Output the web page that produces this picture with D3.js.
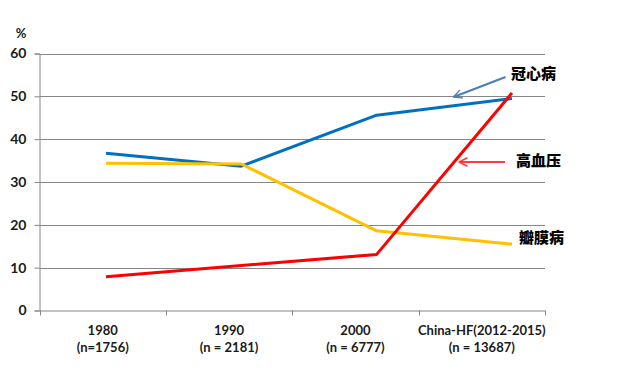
<!DOCTYPE html>
<html><head><meta charset="utf-8">
<script src="https://cdn.jsdelivr.net/npm/d3@7"></script>
<style>
html,body{margin:0;padding:0;background:#fff;}
svg{display:block;}
</style></head>
<body><svg id="c" width="640" height="373"></svg>
<script>
const categories = ["1980", "1990", "2000", "China-HF(2012-2015)"];
const subLabels = ["(n=1756)", "(n = 2181)", "(n = 6777)", "(n = 13687)"];
const chdValues = [36.7, 33.7, 45.6, 49.5];      // 冠心病
const htnValues = [7.9, 10.5, 13.1, 50.8];       // 高血压
const valveValues = [34.4, 34.2, 18.6, 15.5];    // 瓣膜病
const yTicks = [0, 10, 20, 30, 40, 50, 60];
const seriesNames = ["冠心病", "高血压", "瓣膜病"];

(function () {
const svg = d3.select("#c");
const mLeft = 39.5, mRight = 545, mTop = 53.5, mBottom = 310.5;

const y = d3.scaleLinear().domain([0, 60]).range([mBottom, mTop]);
const xBand = d3.scaleBand().domain(categories).range([mLeft, mRight]);
const xPt = d3.scalePoint().domain(categories).range([106, 512]);

const grid = "#868686";
const fontLat = "Lato, 'Liberation Sans', sans-serif";
const fontCJK = "'Noto Sans CJK SC', sans-serif";

// gridlines
svg.append("g").selectAll("line").data(yTicks.filter(d => d > 0)).join("line")
  .attr("x1", mLeft).attr("x2", mRight)
  .attr("y1", d => Math.round(y(d)) + 0.5).attr("y2", d => Math.round(y(d)) + 0.5)
  .attr("stroke", grid).attr("stroke-width", 1);

// y axis
const yAxis = svg.append("g").attr("transform", `translate(${mLeft},0)`)
  .call(d3.axisLeft(y).tickValues(yTicks).tickSize(5).tickPadding(8));
yAxis.select(".domain").attr("stroke", grid);
yAxis.selectAll(".tick line").attr("stroke", grid);
yAxis.selectAll(".tick text").attr("font-family", fontLat).attr("font-weight", "bold")
  .attr("font-size", 14).attr("fill", "#1a1a1a");

// x axis
const xAxis = svg.append("g").attr("transform", `translate(0,${mBottom})`)
  .call(d3.axisBottom(xBand).tickSize(0).tickFormat(""));
xAxis.select(".domain").attr("stroke", grid);
const bounds = [mLeft, ...categories.map(c => xBand(c) + xBand.bandwidth())];
svg.append("g").selectAll("line").data(bounds).join("line")
  .attr("x1", d => Math.round(d) + 0.5).attr("x2", d => Math.round(d) + 0.5)
  .attr("y1", mBottom).attr("y2", mBottom + 5).attr("stroke", grid);

const xl = svg.append("g");
categories.forEach((c, i) => {
  const cx = xBand(c) + xBand.bandwidth() / 2;
  xl.append("text").attr("x", cx).attr("y", 335).attr("text-anchor", "middle")
    .attr("font-family", fontLat).attr("font-weight", "bold").attr("font-size", 13)
    .attr("fill", "#1a1a1a").text(c);
  xl.append("text").attr("x", cx).attr("y", 352).attr("text-anchor", "middle")
    .attr("font-family", fontLat).attr("font-weight", "bold").attr("font-size", 13)
    .attr("fill", "#1a1a1a").text(subLabels[i]);
});

svg.append("text").attr("x", 21).attr("y", 38).attr("text-anchor", "middle")
  .attr("font-family", fontLat).attr("font-weight", "bold").attr("font-size", 13)
  .attr("fill", "#1a1a1a").text("%");

// lines
const line = d3.line().x((d, i) => xPt(categories[i])).y(d => y(d));
const series = [
  {vals: chdValues, color: "#0070C0"},
  {vals: valveValues, color: "#FFC000"},
  {vals: htnValues, color: "#FF0000"}
];
series.forEach(s => {
  svg.append("path").datum(s.vals).attr("d", line).attr("fill", "none")
    .attr("stroke", s.color).attr("stroke-width", 3).attr("stroke-linejoin", "round");
});

// annotations
const defs = svg.append("defs");
function marker(id, color) {
  defs.append("marker").attr("id", id).attr("viewBox", "0 0 10 10").attr("refX", 9).attr("refY", 5)
    .attr("markerWidth", 5).attr("markerHeight", 5).attr("markerUnits", "strokeWidth").attr("orient", "auto")
    .append("path").attr("d", "M1,1 L9,5 L1,9").attr("fill", "none").attr("stroke", color)
    .attr("stroke-width", 1.4).attr("stroke-linecap", "round").attr("stroke-linejoin", "round");
}
marker("ab", "#4a7ebb");
marker("ar", "#ff3b3b");

svg.append("line").attr("x1", 505.5).attr("y1", 77).attr("x2", 453.5).attr("y2", 97)
  .attr("stroke", "#4a7ebb").attr("stroke-width", 2).attr("marker-end", "url(#ab)");
svg.append("line").attr("x1", 505).attr("y1", 162).attr("x2", 459).attr("y2", 162)
  .attr("stroke", "#ff3b3b").attr("stroke-width", 2).attr("marker-end", "url(#ar)");

const labelPos = [[511, 79], [516, 166], [519, 243]];
seriesNames.forEach((n, i) => {
  svg.append("text").attr("x", labelPos[i][0]).attr("y", labelPos[i][1])
    .attr("font-family", fontCJK).attr("font-weight", 900).attr("font-size", 15)
    .attr("fill", "#000").text(n);
});
})();
</script></body></html>
